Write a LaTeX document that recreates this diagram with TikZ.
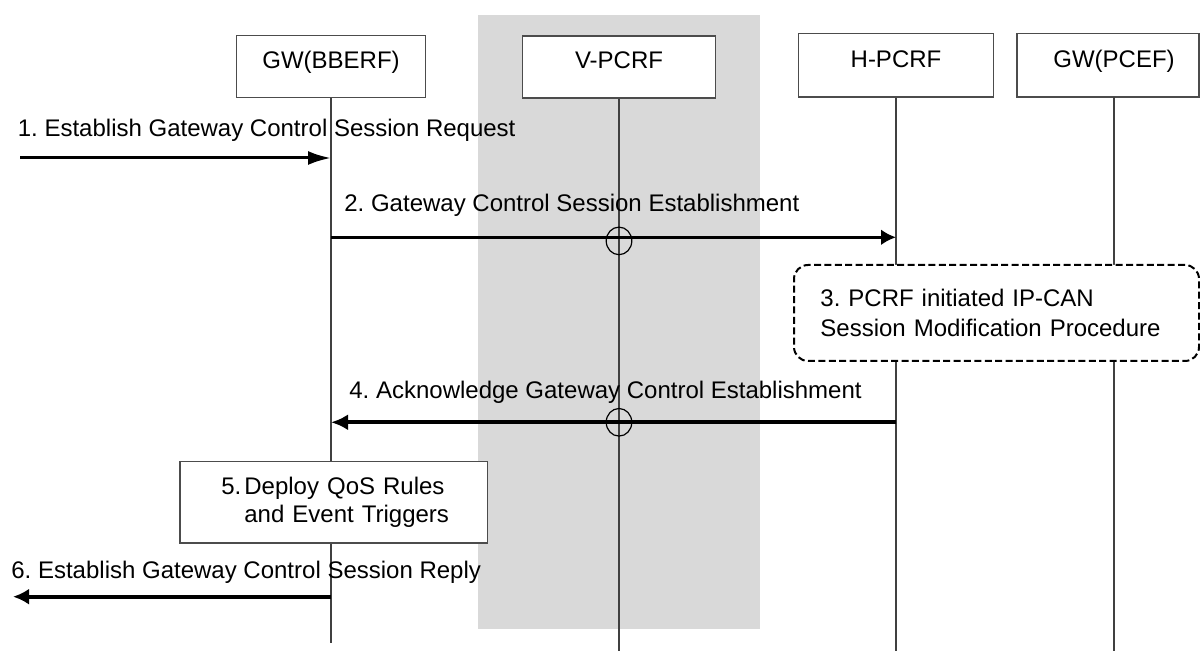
\documentclass[tikz,border=0pt]{standalone}
\usepackage{fontspec}
\setmainfont{Liberation Sans}
\usetikzlibrary{arrows.meta,shapes.geometric}
\definecolor{vshade}{RGB}{217,217,217}
\frenchspacing
\begin{document}
\begin{tikzpicture}[x=0.5pt,y=-0.5pt,
    every node/.style={font=\fontsize{12}{15}\selectfont},
    hdr/.style={draw=black!70, line width=0.6pt, fill=white, minimum height=31pt,
        text height=8pt, text depth=6pt, inner sep=0pt},
    life/.style={draw=black!75, line width=0.6pt},
    msg/.style={inner sep=0pt, anchor=base west},
    xing/.style={ellipse, draw, line width=0.6pt, minimum width=12.8pt,
        minimum height=13.8pt, inner sep=0pt}]
\useasboundingbox (0,0) rectangle (1200,651);

% visited network
\fill[vshade] (478,15) rectangle (760,629);

\node[hdr, minimum width=94.85pt] (P1) at (331,66.6) {GW(BBERF)};
\node[hdr, minimum width=96.8pt] (P2) at (619,67) {V-PCRF};
\node[hdr, minimum width=97.2pt, minimum height=31.65pt] (P3) at (896,65.35) {H-PCRF};
\node[hdr, minimum width=91pt, minimum height=31.65pt] (P4) at (1108,65.35) {\hspace*{6pt}GW(PCEF)};

\coordinate (L4) at (1114,97);
\coordinate (E1) at (0,643);
\coordinate (bot) at (0,651);
\draw[life] (P1.south) -- (P1.south |- E1);
\draw[life] (P2.south) -- (P2.south |- bot);
\draw[life] (P3.south) -- (P3.south |- bot);
\draw[life] (L4) -- (L4 |- bot);

% procedure boxes
\node[draw, dash pattern=on 3.5pt off 1.7pt, line width=1pt, rounded corners=7pt, fill=white,
    minimum width=202.5pt, minimum height=48pt] (S3) at (996.5,313) {};
\node[msg, text width=200pt, align=left] (S3t) at (820,306.7)
    {3. PCRF initiated IP-CAN\\Session Modification Procedure};

\node[draw=black!70, line width=0.6pt, fill=white, minimum width=153.85pt,
    minimum height=40.65pt, inner sep=0pt] (S5) at (333.85,502.35) {};
\node[msg, text width=120pt, align=left, font=\fontsize{12}{13.85}\selectfont] (S5t) at (244,495)
    {\llap{5.\hspace{1.5pt}}Deploy QoS Rules\\and Event Triggers};

% messages
\coordinate (M1) at (20,158);
\coordinate (r2) at (0,237.3);
\coordinate (r4) at (0,422.3);
\coordinate (M6) at (13,596.7);

\path
    (M1) edge[line width=1.5pt, -{Latex[length=11.5pt,width=7pt]}] (P1 |- M1)
    (P1 |- r2) edge[line width=1.6pt, -{Latex[length=7.5pt,width=8pt]}] (P3 |- r2)
    (P3 |- r4) edge[line width=2.1pt, -{Latex[length=8.5pt,width=8pt]}] (P1 |- r4)
    (P1 |- M6) edge[line width=2pt, -{Latex[length=8pt,width=8pt]}] (M6);

\node[xing] (X2) at ([yshift=-1.8pt]P2 |- r2) {};
\node[xing] (X4) at (P2 |- r4) {};

\node[msg] (T1) at (17.5,136.7) {1. Establish Gateway Control Session Request};
\node[msg] (T2) at (344,211.7) {2. Gateway Control Session Establishment};
\node[msg] (T4) at (349,399) {4. Acknowledge Gateway Control Establishment};
\node[msg] (T6) at (11,579) {6. Establish Gateway Control Session Reply};
\end{tikzpicture}
\end{document}
